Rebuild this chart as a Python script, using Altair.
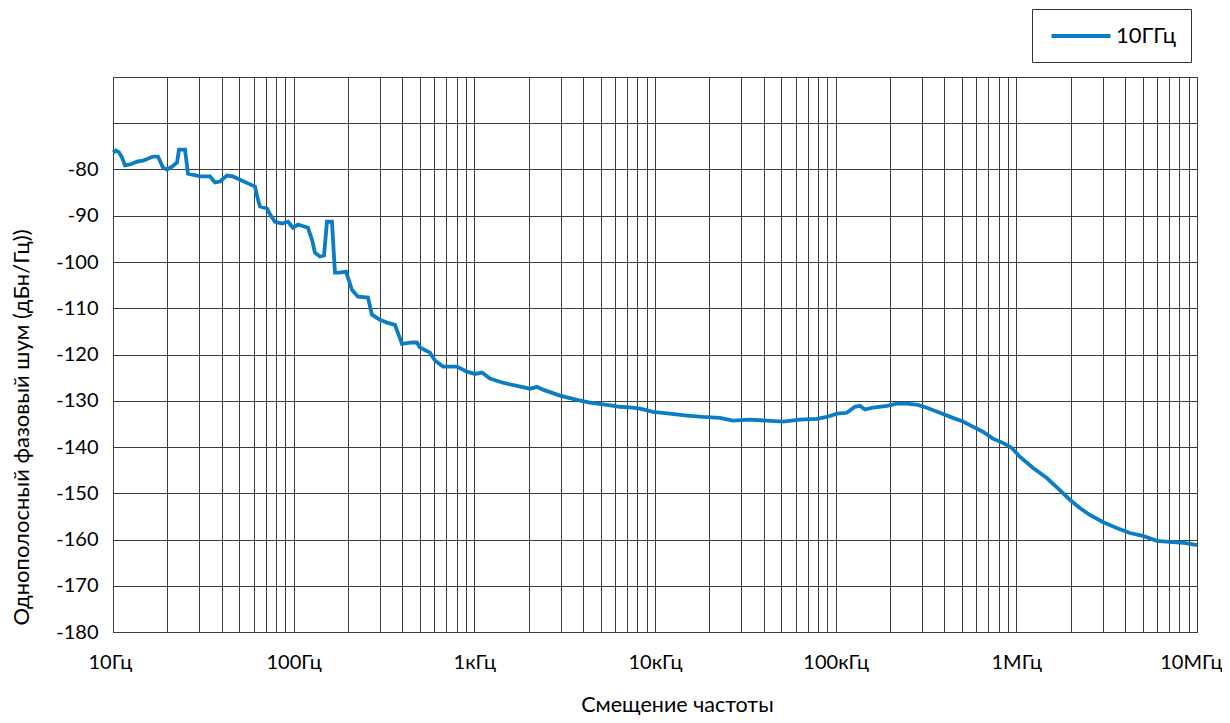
import altair as alt
import pandas as pd

# Offset frequency (Hz) and SSB phase noise (dBc/Hz)
freq_hz = [
    10, 10.39, 10.79, 11.22, 11.65, 12.42, 13.58, 14.66, 16.65, 17.74,
    18.91, 19.90, 21.21, 22.61, 23.19, 25.03, 26.01, 30.30, 34.43, 36.69,
    39.09, 42.75, 46.15, 50.45, 55.85, 61.07, 63.45, 65.10, 71.16, 73.94,
    78.80, 86.15, 93.0, 99.1, 105.6, 120.0, 126.3, 131.2, 139.8, 147.2,
    152.9, 162.9, 169.3, 180.4, 194.8, 210.2, 226.9, 257.8, 271.3, 300.4,
    328.4, 363.7, 397.6, 451.5, 481.2, 500.0, 568.0, 605.3, 670.3, 801.3,
    910.0, 1008, 1102, 1220, 1440, 1721, 2031, 2221, 2397, 2977,
    3697, 4363, 5418, 6394, 7548, 8253, 9737, 12090, 15020, 18410,
    22870, 26990, 33510, 41620, 51050, 63400, 78710, 89420, 101500, 115300,
    127700, 136100, 145100, 160700, 192100, 218200, 247800, 285000, 319700, 377300,
    445300, 505800, 574600, 652600, 741300, 842000, 944300, 1045000, 1234000, 1475000,
    1741000, 1978000, 2246000, 2552000, 3011000, 3599000, 4248000, 5013000, 5992000, 7071000,
    8344000, 10000000,
]
noise_dbc = [
    -76.3, -75.9, -76.3, -77.4, -79.1, -78.9, -78.3, -78.1, -77.2, -77.2,
    -79.6, -80.0, -79.4, -78.5, -75.7, -75.7, -80.9, -81.5, -81.5, -82.8,
    -82.6, -81.3, -81.5, -82.2, -83.0, -83.7, -86.5, -88.0, -88.4, -89.7,
    -91.3, -91.7, -91.3, -92.6, -91.9, -92.6, -95.2, -98.0, -98.8, -98.6,
    -91.3, -91.3, -102.3, -102.3, -102.1, -106.0, -107.5, -107.7, -111.4, -112.5,
    -113.1, -113.6, -117.7, -117.4, -117.4, -118.5, -119.6, -121.3, -122.6, -122.6,
    -123.7, -124.2, -123.9, -125.2, -126.1, -126.8, -127.4, -127.0, -127.6, -128.9,
    -129.8, -130.4, -130.9, -131.3, -131.5, -131.7, -132.4, -132.8, -133.2, -133.5,
    -133.7, -134.3, -134.1, -134.3, -134.5, -134.1, -133.9, -133.5, -132.8, -132.6,
    -131.3, -131.1, -131.9, -131.5, -131.1, -130.6, -130.6, -130.9, -131.5, -132.6,
    -133.7, -134.5, -135.6, -136.7, -138.2, -139.1, -140.2, -142.1, -144.5, -146.7,
    -149.3, -151.4, -153.2, -154.7, -156.2, -157.5, -158.6, -159.2, -160.3, -160.5,
    -160.7, -161.2,
]
series_name = "10ГГц"

x_tick_values = [m * 10 ** k for k in range(1, 7) for m in range(1, 10)] + [10 ** 7]
x_tick_labels = {10: "10Гц", 100: "100Гц", 1000: "1кГц", 10000: "10кГц",
                 100000: "100кГц", 1000000: "1МГц", 10000000: "10МГц"}
y_tick_values = list(range(-180, -59, 10))

df = pd.DataFrame({"f": freq_hz, "v": noise_dbc, "s": series_name})

label_expr = " : ".join(f"datum.value == {k} ? '{v}'" for k, v in x_tick_labels.items()) + " : ''"

FONT = "Lato"
GRID = "#3c3c3c"

chart = alt.Chart(df).mark_line(strokeWidth=3.8, interpolate="linear").encode(
    x=alt.X("f:Q",
            scale=alt.Scale(type="log", domain=[10, 10000000], nice=False),
            axis=alt.Axis(values=x_tick_values, labelExpr=label_expr, labelOverlap=False,
                          title="Смещение частоты", titlePadding=22, titleX=564,
                          labelPadding=20, tickSize=0, ticks=False,
                          labelFlush=True, labelFlushOffset=25,
                          labelFontSize=20, titleFontSize=21.5)),
    y=alt.Y("v:Q",
            scale=alt.Scale(domain=[-180, -60], nice=False),
            axis=alt.Axis(values=y_tick_values,
                          labelExpr="datum.value >= -70 ? '' : '' + datum.value",
                          title="Однополосный фазовый шум (дБн/Гц))",
                          titlePadding=22, titleY=350, labelPadding=15, ticks=False, tickSize=0,
                          labelFontSize=20, titleFontSize=22, labelOverlap=False)),
    color=alt.Color("s:N", scale=alt.Scale(range=["#0b7dc4"]),
                    legend=alt.Legend(title=None, orient="none", legendX=919, legendY=-68,
                                      symbolType="M-3,0H3", symbolSize=387,
                                      symbolOffset=22, labelOffset=23,
                                      symbolStrokeWidth=3.8, labelFontSize=22,
                                      padding=15,
                                      strokeColor="#333333", fillColor="white")),
).properties(
    width=1084, height=555,
    autosize=alt.AutoSizeParams(type="none"),
    padding={"left": 105, "top": 69, "right": 25, "bottom": 83},
).configure_axis(
    grid=True, gridColor=GRID, gridWidth=1, gridOpacity=1,
    domainColor=GRID, labelFont=FONT, titleFont=FONT,
    labelColor="#000000", titleColor="#000000", titleFontWeight="normal",
).configure_legend(
    labelFont=FONT, labelColor="#000000",
).configure_view(
    stroke=GRID, strokeWidth=1,
)

chart.save("out.html", embed_options={"renderer": "svg", "actions": False})
